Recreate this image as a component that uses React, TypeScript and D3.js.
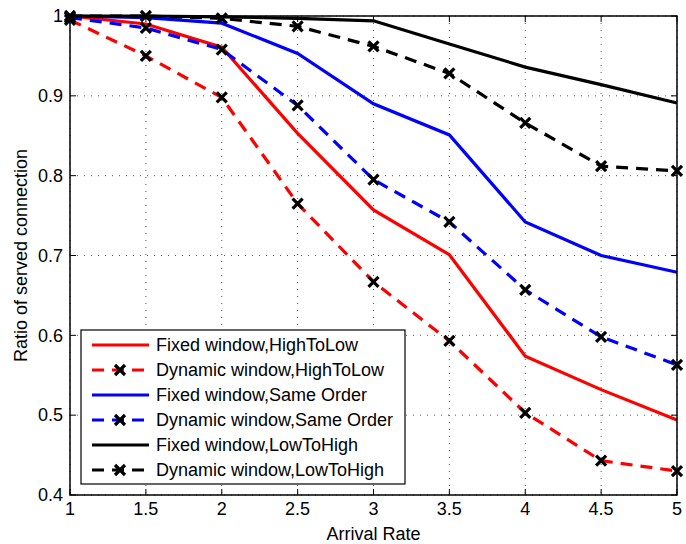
import React from 'react';
import * as d3 from 'd3';

// chart size and plot box
const W = 686;
const H = 544;
const margin = { top: 16, right: 9, bottom: 49, left: 70 };
const innerW = W - margin.left - margin.right;
const innerH = H - margin.top - margin.bottom;

const rates = [1, 1.5, 2, 2.5, 3, 3.5, 4, 4.5, 5];
const xTicks = [1, 1.5, 2, 2.5, 3, 3.5, 4, 4.5, 5];
const yTicks = [0.4, 0.5, 0.6, 0.7, 0.8, 0.9, 1];

const fixedHighToLow = [1.0, 0.99, 0.961, 0.853, 0.757, 0.701, 0.574, 0.532, 0.494];
const dynamicHighToLow = [0.995, 0.95, 0.898, 0.765, 0.667, 0.593, 0.503, 0.443, 0.43];
const fixedSameOrder = [1.0, 0.998, 0.991, 0.953, 0.89, 0.851, 0.742, 0.7, 0.679];
const dynamicSameOrder = [0.998, 0.985, 0.958, 0.888, 0.795, 0.742, 0.657, 0.598, 0.563];
const fixedLowToHigh = [1.0, 1.0, 0.999, 0.997, 0.994, 0.965, 0.936, 0.914, 0.891];
const dynamicLowToHigh = [1.0, 1.0, 0.997, 0.987, 0.962, 0.928, 0.866, 0.812, 0.806];

const series = [
  { name: 'Fixed window,HighToLow', values: fixedHighToLow, color: '#ff0000', dashed: false },
  { name: 'Dynamic window,HighToLow', values: dynamicHighToLow, color: '#ff0000', dashed: true },
  { name: 'Fixed window,Same Order', values: fixedSameOrder, color: '#0000ff', dashed: false },
  { name: 'Dynamic window,Same Order', values: dynamicSameOrder, color: '#0000ff', dashed: true },
  { name: 'Fixed window,LowToHigh', values: fixedLowToHigh, color: '#000000', dashed: false },
  { name: 'Dynamic window,LowToHigh', values: dynamicLowToHigh, color: '#000000', dashed: true },
];

const xScale = d3.scaleLinear().domain([1, 5]).range([0, innerW]);
const yScale = d3.scaleLinear().domain([0.4, 1]).range([innerH, 0]);

const font = '"Liberation Sans", Arial, sans-serif';
const fs = 18;

// x shaped marker
const Cross = ({ x, y }: { x: number; y: number }) => {
  const s = 5;
  return (
    <path
      d={`M${x - s},${y - s}L${x + s},${y + s}M${x - s},${y + s}L${x + s},${y - s}`}
      stroke="#000"
      strokeWidth={3.2}
      fill="none"
    />
  );
};

export default function App() {
  const line = d3
    .line<number>()
    .x((d, i) => xScale(rates[i]))
    .y(d => yScale(d));

  const legendX = 81 - margin.left;
  const legendY = 330 - margin.top;
  const rowH = 25;

  return (
    <svg width={W} height={H} style={{ display: 'block', position: 'absolute', left: 0, top: 0 }}>
      <rect width={W} height={H} fill="#fff" />
      <g transform={`translate(${margin.left},${margin.top})`} fontFamily={font}>
        {/* grid */}
        {xTicks.map(t => (
          <line key={'gx' + t} x1={xScale(t)} x2={xScale(t)} y1={0} y2={innerH}
            stroke="#555" strokeWidth={1} strokeDasharray="1,6" />
        ))}
        {yTicks.map(t => (
          <line key={'gy' + t} x1={0} x2={innerW} y1={yScale(t)} y2={yScale(t)}
            stroke="#555" strokeWidth={1} strokeDasharray="1,6" />
        ))}

        {/* series */}
        {series.map(s => (
          <path key={s.name} d={line(s.values) || ''} fill="none" stroke={s.color}
            strokeWidth={3.2} strokeDasharray={s.dashed ? '12,8' : undefined} />
        ))}
        {series.filter(s => s.dashed).map(s =>
          s.values.map((v, i) => <Cross key={s.name + i} x={xScale(rates[i])} y={yScale(v)} />)
        )}

        {/* box and ticks */}
        <rect x={0} y={0} width={innerW} height={innerH} fill="none" stroke="#000" strokeWidth={1.5} />
        {xTicks.map(t => (
          <g key={'tx' + t}>
            <line x1={xScale(t)} x2={xScale(t)} y1={innerH} y2={innerH - 6} stroke="#000" />
            <line x1={xScale(t)} x2={xScale(t)} y1={0} y2={6} stroke="#000" />
            <text x={xScale(t)} y={innerH + 20} textAnchor="middle" fontSize={fs}>{t}</text>
          </g>
        ))}
        {yTicks.map(t => (
          <g key={'ty' + t}>
            <line x1={0} x2={6} y1={yScale(t)} y2={yScale(t)} stroke="#000" />
            <line x1={innerW} x2={innerW - 6} y1={yScale(t)} y2={yScale(t)} stroke="#000" />
            <text x={-7} y={yScale(t)} dy="0.35em" textAnchor="end" fontSize={fs}>{t}</text>
          </g>
        ))}

        {/* axis labels */}
        <text x={innerW / 2} y={innerH + 45} textAnchor="middle" fontSize={fs}>Arrival Rate</text>
        <text transform={`translate(${-43},${innerH / 2}) rotate(-90)`} textAnchor="middle" fontSize={fs}>
          Ratio of served connection
        </text>

        {/* legend */}
        <rect x={legendX} y={legendY} width={324} height={154} fill="#fff" stroke="#000" strokeWidth={1.2} />
        {series.map((s, i) => {
          const cy = legendY + 15 + i * rowH;
          return (
            <g key={'lg' + s.name}>
              <line x1={legendX + 11} x2={legendX + 68} y1={cy} y2={cy} stroke={s.color} strokeWidth={3.2}
                strokeDasharray={s.dashed ? '12,8' : undefined} />
              {s.dashed && <Cross x={legendX + 39} y={cy} />}
              <text x={legendX + 75} y={cy} dy="0.35em" fontSize={fs}>{s.name}</text>
            </g>
          );
        })}
      </g>
    </svg>
  );
}
